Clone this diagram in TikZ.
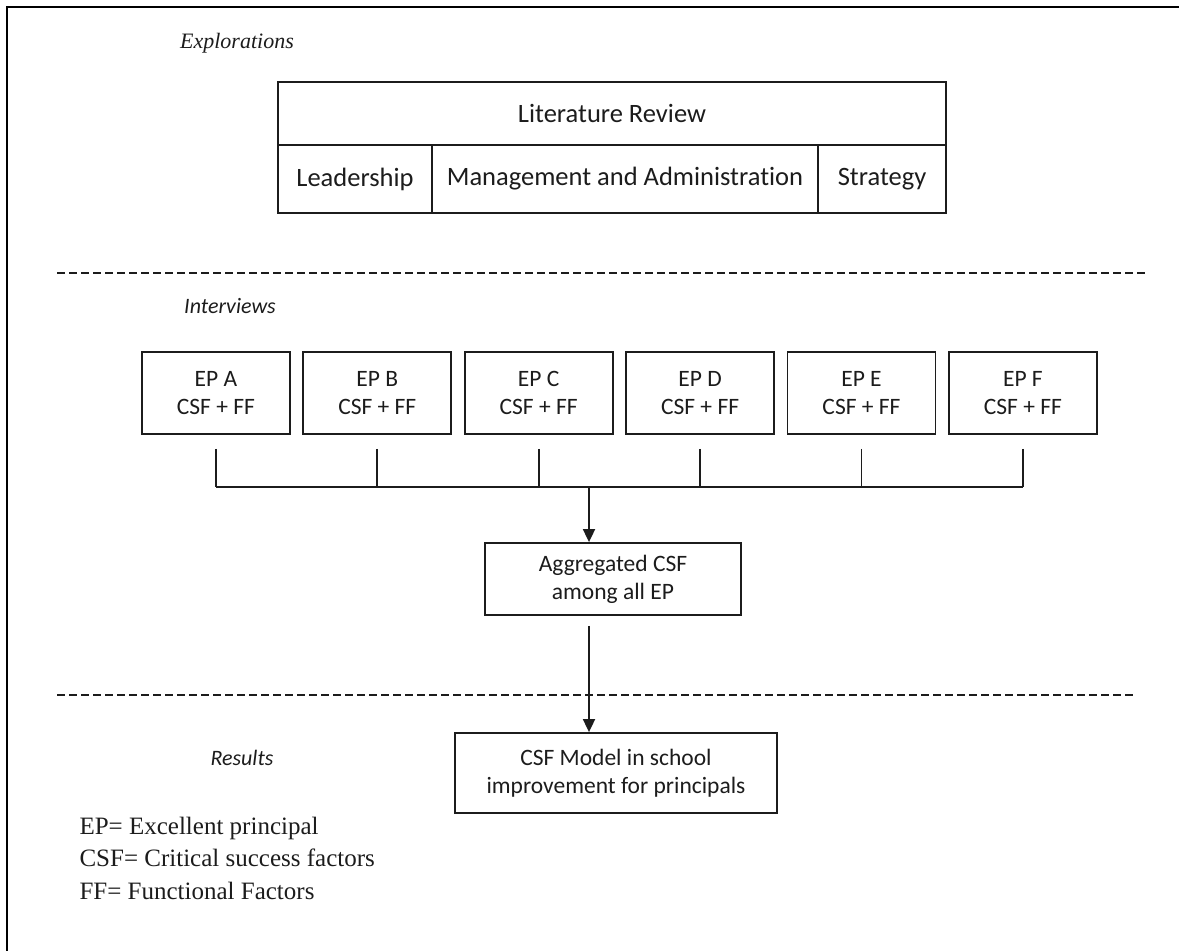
\documentclass[tikz,border=0pt]{standalone}
\usepackage{fontspec}
\setmainfont{Liberation Serif}
\newfontfamily\calfont[Ligatures=NoCommon]{Carlito}
\usetikzlibrary{arrows.meta, positioning}
\definecolor{cInk}{HTML}{1C1C1C}

\begin{document}
\begin{tikzpicture}[
    x=1pt, y=-1pt,
    node distance=0pt and 11.6pt,
    cell/.style={draw=cInk, line width=1.8pt, outer sep=0pt, inner sep=0pt,
                 font=\calfont\fontsize{26.5}{32}\selectfont, text=cInk},
    epbox/.style={draw=cInk, line width=1.8pt, minimum width=148pt,
                  minimum height=82pt, align=center, inner sep=0pt,
                  font=\calfont\fontsize{23.5}{28}\selectfont, text=cInk},
    stage/.style={font=\calfont\itshape\fontsize{22}{26}\selectfont, text=cInk},
    link/.style={draw=cInk, line width=1.8pt},
    arr/.style={link, -{Triangle[length=13pt, width=12pt]}},
    sep/.style={draw=cInk, line width=1.6pt, dash pattern=on 8pt off 4pt},
  ]
  \useasboundingbox (0,0) rectangle (1179,951);

  % ── FRAME ──
  \draw[line width=2.2pt] (7,951) -- (7,7) -- (1179,7);

  % ── EXPLORATIONS ──
  \node[font=\itshape\fontsize{22}{26}\selectfont, text=cInk] (expl) at (237,43) {Explorations};

  \node[cell, anchor=north west, minimum width=668pt, minimum height=63pt]
    (lit) at (278,82) {Literature Review};
  \node[cell, below=0pt of lit.south west, anchor=north west,
        minimum width=154pt, minimum height=68pt] (lead) {Leadership};
  \node[cell, right=0pt of lead, minimum width=386pt, minimum height=68pt]
    (mgmt) {Management and Administration};
  \node[cell, right=0pt of mgmt, minimum width=128pt, minimum height=68pt]
    (strat) {Strategy};

  \draw[sep] (57,273) -- (1145,273);

  % ── INTERVIEWS ──
  \node[stage] (intv) at (230,306) {Interviews};

  \node[epbox, anchor=north west] (epA) at (141,351) {EP A\\CSF + FF};
  \node[epbox, right=of epA] (epB) {EP B\\CSF + FF};
  \node[epbox, right=of epB] (epC) {EP C\\CSF + FF};
  \node[epbox, right=of epC] (epD) {EP D\\CSF + FF};
  \node[epbox, right=of epD] (epE) {EP E\\CSF + FF};
  \node[epbox, right=of epE] (epF) {EP F\\CSF + FF};

  \coordinate (bus) at (589,487);
  \foreach \n in {A,B,C,D,E,F}
    \draw[link, shorten <=14pt] (ep\n.south) -- (ep\n.south |- bus);
  \draw[link] (epA.south |- bus) -- (epF.south |- bus);

  % ── AGGREGATION ──
  \node[epbox, minimum width=256pt, minimum height=72pt] (agg) at (613,579)
    {Aggregated CSF\\among all EP};
  \draw[arr] (bus) -- (bus |- agg.north);

  \draw[sep] (57,695) -- (1135,695);

  % ── RESULTS ──
  \node[stage] (res) at (242,758) {Results};

  \node[epbox, minimum width=322pt, minimum height=80pt] (fin) at (616,773)
    {CSF Model in school\\improvement for principals};
  \draw[arr, shorten <=10pt] (bus |- agg.south) -- (bus |- fin.north);

  % ── LEGEND ──
  \node[anchor=west, align=left, text=cInk,
        font=\fontsize{25}{32.5}\selectfont] (key) at (76,858)
    {EP= Excellent principal\\CSF= Critical success factors\\FF= Functional Factors};
\end{tikzpicture}
\end{document}
